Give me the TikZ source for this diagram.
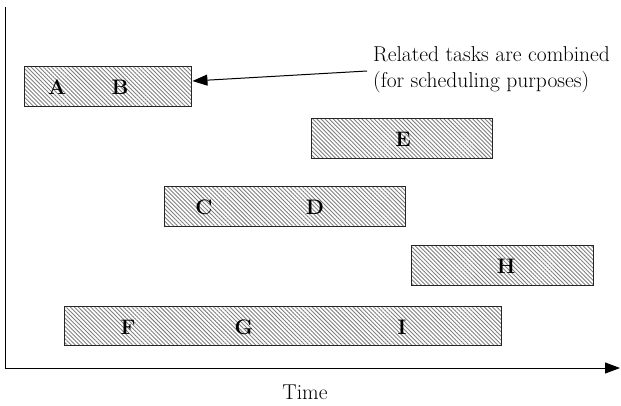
\documentclass[tikz,border=0pt]{standalone}
\usepackage{tikz}
\usetikzlibrary{patterns.meta,arrows.meta}

\begin{document}
\begin{tikzpicture}[x=1pt, y=-1pt]

	\useasboundingbox (0,0) rectangle (621,405);

	% axes
	\coordinate (ytop) at (5,7);
	\coordinate (orig) at (5,368);
	\coordinate (xend) at (620,368);
	\draw[line width=1pt, -{Triangle[length=15pt,width=11pt]}] (ytop) -- (orig) -- (xend);
	\node[font=\fontsize{21.5}{26}\selectfont] (time) at (305,392) {Time};

	\tikzset{task/.style={
				draw=black!85,
				line width=1pt,
				pattern={Lines[angle=-45,distance=2.9pt,line width=0.9pt]},
				pattern color=black!50,
				minimum height=40pt,
				inner sep=0pt
			}}

	% barres des taches
	\node[task, minimum width=167pt] (ab)  at (107.5,86) {};
	\node[task, minimum width=181pt] (e)   at (401.5,138) {};
	\node[task, minimum width=241pt] (cd)  at (285,206) {};
	\node[task, minimum width=182pt] (h)   at (502,265) {};
	\node[task, minimum width=437pt, minimum height=39pt] (fgi) at (283,326) {};

	\tikzset{lbl/.style={font=\fontsize{21}{24}\selectfont\bfseries}}
	\foreach \n/\x/\y/\t in {
	la/57/87/A,
	lb/120/87/B,
	le/403/139/E,
	lc/204/207/C,
	ld/315/207/D,
	lh/506/266/H,
	lf/128/327/F,
	lg/244/327/G,
	li/402/327/I
	}{
	\node[lbl] (\n) at (\x,\y) {\t};
	}

	% remarque
	\node[align=left, anchor=west, inner sep=0pt, font=\fontsize{21.5}{26}\selectfont] (note) at (373,70)
	{Related tasks are combined\\(for scheduling purposes)};
	\draw[line width=1pt, -{Triangle[length=15pt,width=11pt]}]
	([xshift=-6pt,yshift=-1pt]note.west) -- ([xshift=1pt,yshift=5pt]ab.east);

\end{tikzpicture}
\end{document}
